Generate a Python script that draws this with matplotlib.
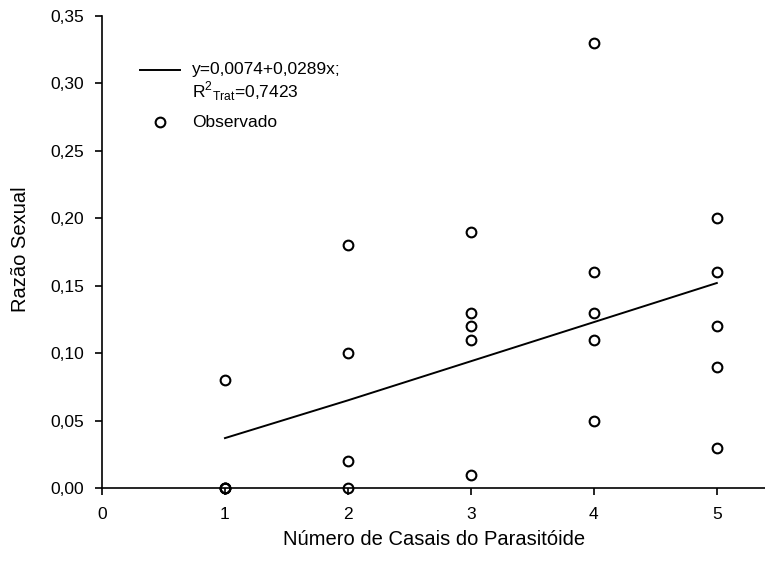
import matplotlib
matplotlib.use('Agg')
import matplotlib.pyplot as plt
from matplotlib.ticker import FuncFormatter

plt.rcParams['font.family'] = ['Liberation Sans', 'DejaVu Sans']
plt.rcParams['mathtext.fontset'] = 'custom'
plt.rcParams['mathtext.rm'] = 'Liberation Sans'

# Observed values (number of couples vs sex ratio)
casais = [1, 1, 1, 1,
          2, 2, 2, 2,
          3, 3, 3, 3, 3,
          4, 4, 4, 4, 4,
          5, 5, 5, 5, 5]
razao = [0.08, 0.00, 0.00, 0.00,
         0.18, 0.10, 0.02, 0.00,
         0.19, 0.13, 0.12, 0.11, 0.01,
         0.33, 0.16, 0.13, 0.11, 0.05,
         0.20, 0.16, 0.12, 0.09, 0.03]

# Fitted line
x_fit = [1, 2, 3, 4, 5]
y_fit = [0.037, 0.065, 0.094, 0.123, 0.152]

eq_text = 'y=0,0074+0,0289x;'
r2_text = r'R$^{2}$$_{\mathregular{Trat}}$=0,7423'

fig = plt.figure(figsize=(7.65, 5.66), dpi=100)
ax = fig.add_axes([102 / 765, 78 / 566, 664 / 765, 472 / 566])

ax.plot(x_fit, y_fit, color='black', lw=1.4)
ax.plot(casais, razao, linestyle='none', marker='o', markersize=7,
        markerfacecolor='none', markeredgecolor='black', markeredgewidth=1.5,
        clip_on=False)

ax.set_xlim(0, 5.4)
ax.set_ylim(0, 0.35)
ax.set_xticks([0, 1, 2, 3, 4, 5])
ax.set_yticks([0, 0.05, 0.10, 0.15, 0.20, 0.25, 0.30, 0.35])
ax.yaxis.set_major_formatter(FuncFormatter(lambda v, p: f'{v:.2f}'.replace('.', ',')))

ax.spines['right'].set_visible(False)
ax.spines['top'].set_visible(False)
ax.tick_params(direction='out', length=5, width=1.2, labelsize=12.5)
ax.tick_params(axis='x', pad=9)
ax.tick_params(axis='y', pad=8)
ax.spines['left'].set_linewidth(1.2)
ax.spines['bottom'].set_linewidth(1.2)

ax.set_xlabel('Número de Casais do Parasitóide', fontsize=14.5)
ax.set_ylabel('Razão Sexual', fontsize=14.5)
ax.xaxis.set_label_coords(0.5, -0.09)
ax.yaxis.set_label_coords(-0.108, 0.506)

# Manual legend
ax.plot([0.057, 0.117], [0.886, 0.886], color='black', lw=1.4, transform=ax.transAxes)
ax.text(0.1355, 0.886, eq_text, transform=ax.transAxes, fontsize=12.5, va='center')
ax.text(0.1355, 0.841, r2_text, transform=ax.transAxes, fontsize=12.5, va='center')
ax.plot([0.087], [0.775], linestyle='none', marker='o', markersize=7,
        markerfacecolor='none', markeredgecolor='black', markeredgewidth=1.5,
        transform=ax.transAxes)
ax.text(0.1355, 0.775, 'Observado', transform=ax.transAxes, fontsize=12.5, va='center')

fig.savefig('out.png', dpi=100)
